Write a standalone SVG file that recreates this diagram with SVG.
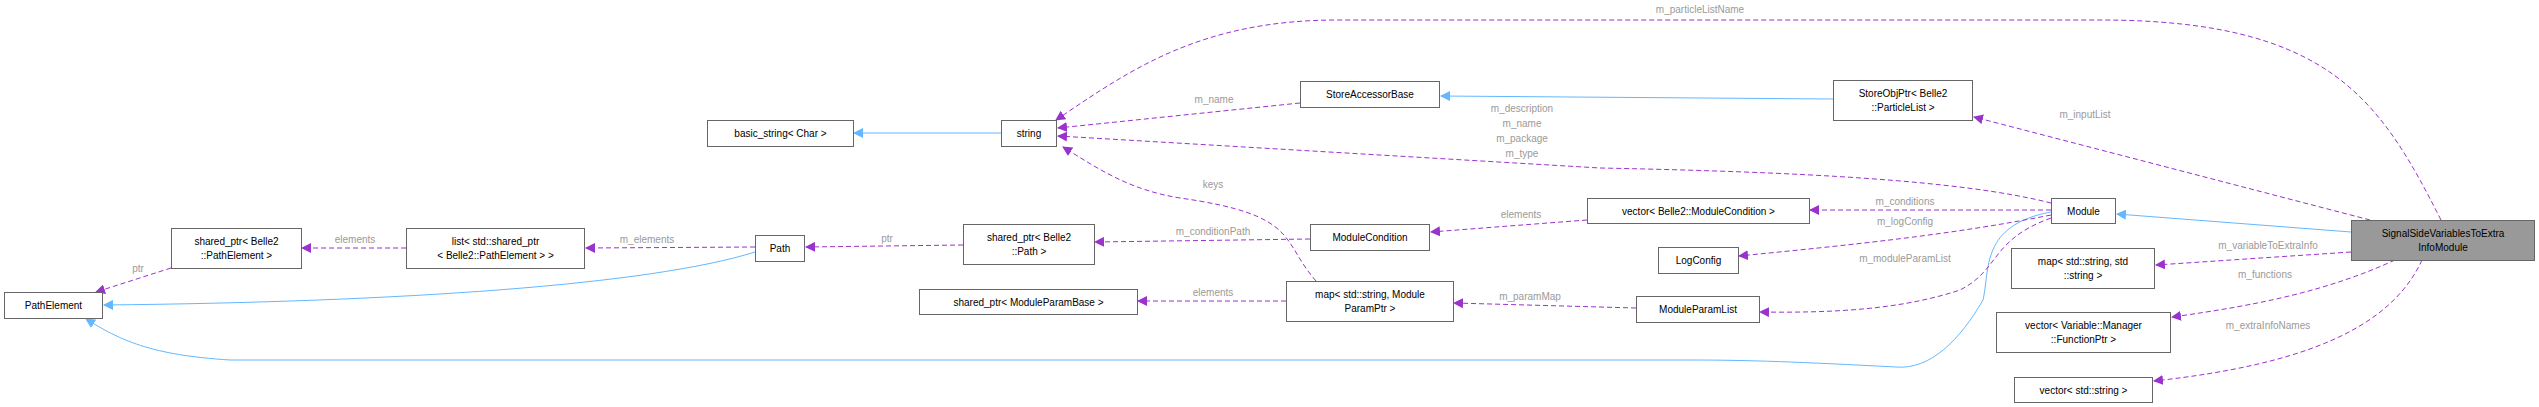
<svg xmlns="http://www.w3.org/2000/svg" width="2539" height="407" viewBox="0 0 2539 407">
<defs>
<marker id="ab" markerWidth="10" markerHeight="10" refX="9" refY="5" orient="auto" markerUnits="userSpaceOnUse"><path d="M0,0 L10,5 L0,10 z" fill="#63b8ff"/></marker>
<marker id="ap" markerWidth="10" markerHeight="10" refX="9" refY="5" orient="auto" markerUnits="userSpaceOnUse"><path d="M0,0 L10,5 L0,10 z" fill="#9a32cd"/></marker>
</defs>
<style>
.n rect{fill:#fff;stroke:#666;stroke-width:1}
.n text,text.t{font-family:"Liberation Sans",Arial,sans-serif;font-size:10px;fill:#000;text-anchor:middle}
.b{fill:none;stroke:#63b8ff;stroke-width:1;marker-end:url(#ab)}
.p{fill:none;stroke:#9a32cd;stroke-width:1;stroke-dasharray:5,3;marker-end:url(#ap)}
.l{font-family:"Liberation Sans",Arial,sans-serif;font-size:10px;fill:#9a9a9a;text-anchor:middle}
</style>
<rect width="2539" height="407" fill="#fff"/>
<g id="edges">
<path class="p" d="M2441,220 C2380,100 2330,20 2100,20 L1338,20 C1200,20 1130,70 1056,120"/>
<text class="l" x="1700" y="13">m_particleListName</text>
<path class="p" d="M1300,103 L1058,128"/>
<text class="l" x="1214" y="103">m_name</text>
<path class="b" d="M1001,133 L854,133"/>
<path class="b" d="M1833,99 L1441,96"/>
<path class="p" d="M2051,203 C1960,180 1800,172 1600,168 L1058,136"/>
<text class="l" x="1522" y="112">m_description</text>
<text class="l" x="1522" y="127">m_name</text>
<text class="l" x="1522" y="142">m_package</text>
<text class="l" x="1522" y="157">m_type</text>
<path class="p" d="M1316,281 C1280,240 1300,215 1180,198 C1130,190 1100,170 1063,147"/>
<text class="l" x="1213" y="188">keys</text>
<path class="p" d="M1587,220 L1431,232"/>
<text class="l" x="1521" y="218">elements</text>
<path class="p" d="M1310,239 L1095,242"/>
<text class="l" x="1213" y="235">m_conditionPath</text>
<path class="p" d="M963,245 L806,247"/>
<text class="l" x="887" y="242">ptr</text>
<path class="p" d="M755,247 L586,248"/>
<text class="l" x="647" y="243">m_elements</text>
<path class="p" d="M406,248 L302,248"/>
<text class="l" x="355" y="243">elements</text>
<path class="p" d="M171,268 L96,292"/>
<text class="l" x="138" y="272">ptr</text>
<path class="b" d="M755,252 C650,285 400,302 104,305"/>
<path class="b" d="M2051,212 C1980,225 1990,270 1983,300 C1960,340 1930,370 1896,367 C1800,362 1750,360 1690,360 L230,360 C150,355 120,340 86,319"/>
<path class="p" d="M1286,301 L1138,301"/>
<text class="l" x="1213" y="296">elements</text>
<path class="p" d="M1636,308 L1454,303"/>
<text class="l" x="1530" y="300">m_paramMap</text>
<path class="p" d="M2051,210 L1810,210"/>
<text class="l" x="1905" y="205">m_conditions</text>
<path class="p" d="M2051,215 C1950,235 1850,245 1739,256"/>
<text class="l" x="1905" y="225">m_logConfig</text>
<path class="p" d="M2051,218 C1990,240 2000,270 1960,290 C1900,310 1830,313 1760,312"/>
<text class="l" x="1905" y="262">m_moduleParamList</text>
<path class="b" d="M2351,232 L2117,214"/>
<path class="p" d="M2370,220 L1974,117"/>
<text class="l" x="2085" y="118">m_inputList</text>
<path class="p" d="M2351,252 L2156,265"/>
<text class="l" x="2268" y="249">m_variableToExtraInfo</text>
<path class="p" d="M2395,260 C2330,290 2260,305 2172,317"/>
<text class="l" x="2265" y="278">m_functions</text>
<path class="p" d="M2422,260 C2390,330 2300,365 2154,381"/>
<text class="l" x="2268" y="329">m_extraInfoNames</text>
</g>
<g id="PathElement" class="n"><rect x="4.5" y="292.5" width="98" height="26"/><text x="53.5" y="309">PathElement</text></g>
<g id="SharedPtrPathElement" class="n"><rect x="171.5" y="228.5" width="130" height="40"/><text x="236.5" y="245">shared_ptr&lt; Belle2</text><text x="236.5" y="259">::PathElement &gt;</text></g>
<g id="ListSharedPtr" class="n"><rect x="406.5" y="228.5" width="178" height="40"/><text x="495.5" y="245">list&lt; std::shared_ptr</text><text x="495.5" y="259">&lt; Belle2::PathElement &gt; &gt;</text></g>
<g id="Path" class="n"><rect x="755.5" y="235.5" width="49" height="26"/><text x="780" y="252">Path</text></g>
<g id="BasicString" class="n"><rect x="707.5" y="120.5" width="146" height="26"/><text x="780.5" y="137">basic_string&lt; Char &gt;</text></g>
<g id="String" class="n"><rect x="1001.5" y="120.5" width="55" height="26"/><text x="1029" y="137">string</text></g>
<g id="StoreAccessorBase" class="n"><rect x="1300.5" y="81.5" width="139" height="26"/><text x="1370" y="98">StoreAccessorBase</text></g>
<g id="SharedPtrPath" class="n"><rect x="963.5" y="224.5" width="131" height="40"/><text x="1029" y="241">shared_ptr&lt; Belle2</text><text x="1029" y="255">::Path &gt;</text></g>
<g id="ModuleCondition" class="n"><rect x="1310.5" y="224.5" width="119" height="26"/><text x="1370" y="241">ModuleCondition</text></g>
<g id="SharedPtrModuleParamBase" class="n"><rect x="919.5" y="289.5" width="218" height="25"/><text x="1028.5" y="306">shared_ptr&lt; ModuleParamBase &gt;</text></g>
<g id="MapModuleParamPtr" class="n"><rect x="1286.5" y="281.5" width="167" height="40"/><text x="1370" y="298">map&lt; std::string, Module</text><text x="1370" y="312">ParamPtr &gt;</text></g>
<g id="VectorModuleCondition" class="n"><rect x="1587.5" y="198.5" width="222" height="25"/><text x="1698.5" y="215">vector&lt; Belle2::ModuleCondition &gt;</text></g>
<g id="LogConfig" class="n"><rect x="1658.5" y="247.5" width="80" height="26"/><text x="1698.5" y="264">LogConfig</text></g>
<g id="ModuleParamList" class="n"><rect x="1636.5" y="296.5" width="123" height="26"/><text x="1698" y="313">ModuleParamList</text></g>
<g id="StoreObjPtr" class="n"><rect x="1833.5" y="80.5" width="139" height="40"/><text x="1903" y="97">StoreObjPtr&lt; Belle2</text><text x="1903" y="111">::ParticleList &gt;</text></g>
<g id="Module" class="n"><rect x="2051.5" y="198.5" width="64" height="25"/><text x="2083.5" y="215">Module</text></g>
<g id="SignalSide" class="n"><rect x="2351.5" y="220.5" width="183" height="40" style="fill:#999"/><text x="2443" y="237">SignalSideVariablesToExtra</text><text x="2443" y="251">InfoModule</text></g>
<g id="MapStringString" class="n"><rect x="2011.5" y="248.5" width="143" height="40"/><text x="2083" y="265">map&lt; std::string, std</text><text x="2083" y="279">::string &gt;</text></g>
<g id="VectorFunctionPtr" class="n"><rect x="1996.5" y="312.5" width="174" height="40"/><text x="2083.5" y="329">vector&lt; Variable::Manager</text><text x="2083.5" y="343">::FunctionPtr &gt;</text></g>
<g id="VectorString" class="n"><rect x="2014.5" y="377.5" width="138" height="25"/><text x="2083.5" y="394">vector&lt; std::string &gt;</text></g>
</svg>
